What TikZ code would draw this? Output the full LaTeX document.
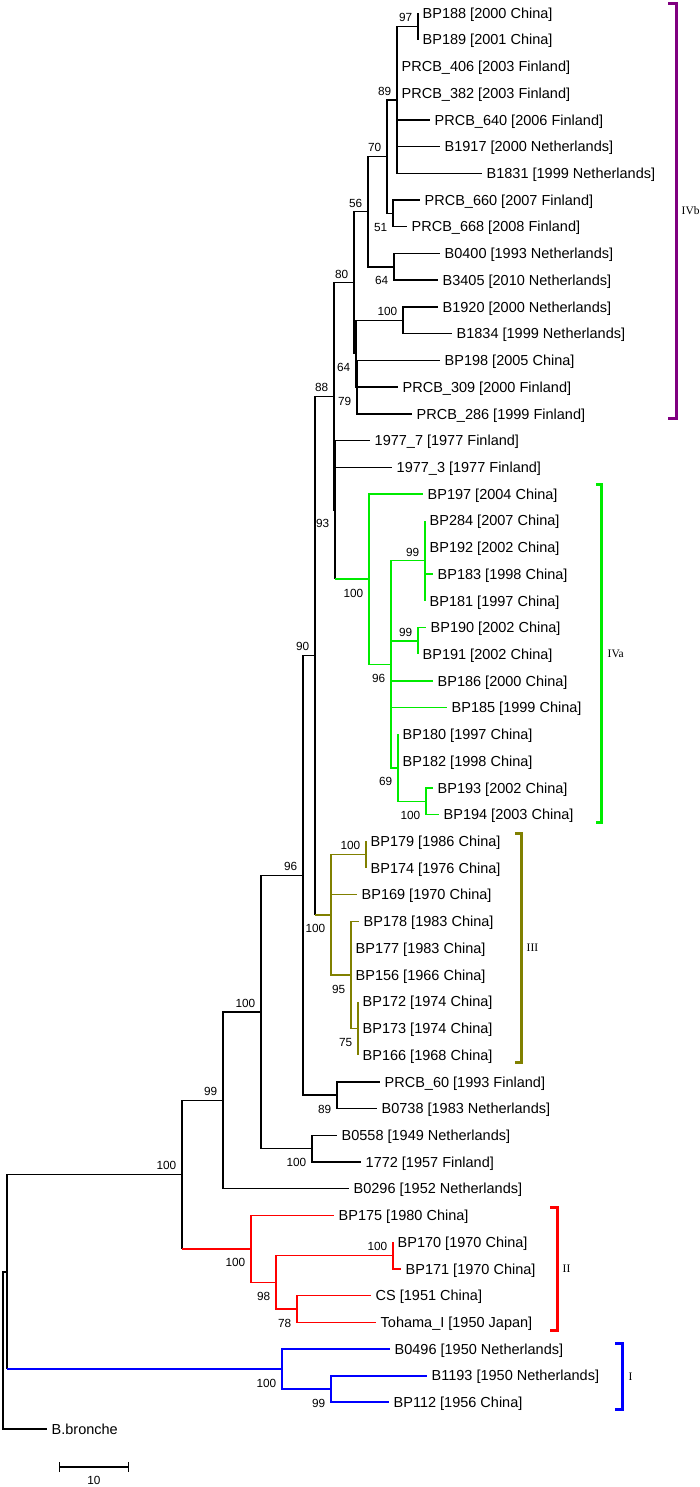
\documentclass[tikz,border=0pt]{standalone}
\usepackage{fontspec}
\setmainfont{Liberation Sans}
\newfontfamily\cladeserif{Liberation Serif}
\usetikzlibrary{arrows.meta}
\definecolor{cIVb}{RGB}{128,0,128}
\definecolor{cIVa}{RGB}{0,235,0}
\definecolor{cIII}{RGB}{128,128,0}
\definecolor{cII}{RGB}{255,0,0}
\definecolor{cI}{RGB}{0,0,255}

\begin{document}
\begin{tikzpicture}[x=1pt,y=-26.72pt,line width=1.4pt,
  leaf/.style={anchor=west,inner xsep=4pt,inner ysep=0pt,text height=10.4pt,text depth=0pt,font=\fontsize{14.5}{17}\selectfont},
  bs/.style={inner sep=0pt,text height=8.4pt,text depth=0pt,font=\fontsize{11.8}{14}\selectfont},
  bsup/.style={label={[bs,xshift=-5pt,yshift=4pt]above left:#1}},
  bsdn/.style={label={[bs,xshift=-5pt,yshift=-9pt]below left:#1}},
  brk/.style={line width=3pt},
  clade/.style={anchor=west,inner sep=0pt,text height=7.6pt,text depth=0pt,font=\cladeserif\fontsize{11.5}{13}\selectfont}]
\useasboundingbox (0,0.5135) rectangle (700,56.165);

\node[leaf] (bp188) at (418,1) {BP188 [2000 China]};
\node[leaf] (bp189) at (418,2) {BP189 [2001 China]};
\node[leaf] (prcb406) at (397,3) {PRCB\_406 [2003 Finland]};
\node[leaf] (prcb382) at (397,4) {PRCB\_382 [2003 Finland]};
\node[leaf] (prcb640) at (430,5) {PRCB\_640 [2006 Finland]};
\node[leaf] (b1917) at (440,6) {B1917 [2000 Netherlands]};
\node[leaf] (b1831) at (482,7) {B1831 [1999 Netherlands]};
\node[leaf] (prcb660) at (420,8) {PRCB\_660 [2007 Finland]};
\node[leaf] (prcb668) at (407,9) {PRCB\_668 [2008 Finland]};
\node[leaf] (b0400) at (440,10) {B0400 [1993 Netherlands]};
\node[leaf] (b3405) at (438,11) {B3405 [2010 Netherlands]};
\node[leaf] (b1920) at (438,12) {B1920 [2000 Netherlands]};
\node[leaf] (b1834) at (452,13) {B1834 [1999 Netherlands]};
\node[leaf] (bp198) at (440,14) {BP198 [2005 China]};
\node[leaf] (prcb309) at (398,15) {PRCB\_309 [2000 Finland]};
\node[leaf] (prcb286) at (412,16) {PRCB\_286 [1999 Finland]};
\node[leaf] (fin7) at (370,17) {1977\_7 [1977 Finland]};
\node[leaf] (fin3) at (392,18) {1977\_3 [1977 Finland]};
\node[leaf] (bp197) at (423,19) {BP197 [2004 China]};
\node[leaf] (bp284) at (425,20) {BP284 [2007 China]};
\node[leaf] (bp192) at (425,21) {BP192 [2002 China]};
\node[leaf] (bp183) at (433,22) {BP183 [1998 China]};
\node[leaf] (bp181) at (425,23) {BP181 [1997 China]};
\node[leaf] (bp190) at (426,24) {BP190 [2002 China]};
\node[leaf] (bp191) at (418,25) {BP191 [2002 China]};
\node[leaf] (bp186) at (433,26) {BP186 [2000 China]};
\node[leaf] (bp185) at (447,27) {BP185 [1999 China]};
\node[leaf] (bp180) at (398,28) {BP180 [1997 China]};
\node[leaf] (bp182) at (398,29) {BP182 [1998 China]};
\node[leaf] (bp193) at (433,30) {BP193 [2002 China]};
\node[leaf] (bp194) at (439,31) {BP194 [2003 China]};
\node[leaf] (bp179) at (366,32) {BP179 [1986 China]};
\node[leaf] (bp174) at (366,33) {BP174 [1976 China]};
\node[leaf] (bp169) at (357,34) {BP169 [1970 China]};
\node[leaf] (bp178) at (359,35) {BP178 [1983 China]};
\node[leaf] (bp177) at (351,36) {BP177 [1983 China]};
\node[leaf] (bp156) at (351,37) {BP156 [1966 China]};
\node[leaf] (bp172) at (358,38) {BP172 [1974 China]};
\node[leaf] (bp173) at (358,39) {BP173 [1974 China]};
\node[leaf] (bp166) at (358,40) {BP166 [1968 China]};
\node[leaf] (prcb60) at (380,41) {PRCB\_60 [1993 Finland]};
\node[leaf] (b0738) at (377,42) {B0738 [1983 Netherlands]};
\node[leaf] (b0558) at (337,43) {B0558 [1949 Netherlands]};
\node[leaf] (fin1772) at (361,44) {1772 [1957 Finland]};
\node[leaf] (b0296) at (349,45) {B0296 [1952 Netherlands]};
\node[leaf] (bp175) at (334,46) {BP175 [1980 China]};
\node[leaf] (bp170) at (393,47) {BP170 [1970 China]};
\node[leaf] (bp171) at (401,48) {BP171 [1970 China]};
\node[leaf] (cs) at (371,49) {CS [1951 China]};
\node[leaf] (tohama) at (376,50) {Tohama\_I [1950 Japan]};
\node[leaf] (b0496) at (390,51) {B0496 [1950 Netherlands]};
\node[leaf] (b1193) at (427,52) {B1193 [1950 Netherlands]};
\node[leaf] (bp112) at (389,53) {BP112 [1956 China]};
\node[leaf] (bbronche) at (47,54) {B.bronche};

\coordinate[bsup=97] (n97) at (418,1.5);
\coordinate[bsup=89] (n89) at (397,4.25);
\coordinate[bsdn=51] (n51) at (393,8.5);
\coordinate[bsup=70] (n70) at (387,6.375);
\coordinate[bsdn=64] (n64a) at (394,10.5);
\coordinate[bsup=56] (n56) at (368,8.4375);
\coordinate[bsup=100] (n100a) at (403,12.5);
\coordinate[bsdn=79] (n79) at (357,15);
\coordinate[bsdn=64] (n64b) at (356,13.75);
\coordinate[bsup=80] (n80) at (354,11.09375);
\coordinate[bsup=88] (n88) at (334,15.34375);
\coordinate[bsdn=93] (n93) at (335,19.59375);
\coordinate[bsdn=100] (nIVa) at (369,22.1875);
\coordinate[bsdn=96] (n96) at (391,25.375);
\coordinate[bsup=99] (n99a) at (425,21.5);
\coordinate[bsup=99] (n99b) at (418,24.5);
\coordinate[bsdn=69] (n69) at (398,29.25);
\coordinate[bsdn=100] (n100c) at (426,30.5);
\coordinate[bsdn=100] (n100d) at (331,34.75);
\coordinate[bsup=100] (n100e) at (366,32.5);
\coordinate[bsdn=95] (n95) at (351,37);
\coordinate[bsdn=75] (n75) at (358,39);
\coordinate[bsup=90] (n90) at (315,25.046875);
\coordinate[bsdn=89] (n89b) at (337,41.5);
\coordinate[bsup=96] (n96b) at (303,33.27344);
\coordinate[bsdn=100] (n100g) at (312,43.5);
\coordinate[bsup=100] (n100f) at (261,38.38672);
\coordinate[bsup=99] (n99c) at (223,41.69336);
\coordinate[bsup=100] (n100h) at (182,44.47168);
\coordinate[bsdn=100] (nII) at (251,47.25);
\coordinate[bsdn=98] (n98) at (276,48.5);
\coordinate[bsup=100] (n100i) at (393,47.5);
\coordinate[bsdn=78] (n78) at (297,49.5);
\coordinate[bsdn=100] (nI) at (282,51.75);
\coordinate[bsdn=99] (n99d) at (331,52.5);
\coordinate (n7) at (7,48.11084);
\coordinate (nroot) at (3,51.05542);

\draw (n97) |- (bp188.west) (n97) |- (bp189.west);
\draw (n89) |- (n97) (n89) |- (prcb406.west) (n89) |- (prcb382.west) (n89) |- (prcb640.west) (n89) |- (b1917.west) (n89) |- (b1831.west);
\draw (n51) |- (prcb660.west) (n51) |- (prcb668.west);
\draw (n70) |- (n89) (n70) |- (n51);
\draw (n64a) |- (b0400.west) (n64a) |- (b3405.west);
\draw (n56) |- (n70) (n56) |- (n64a);
\draw (n100a) |- (b1920.west) (n100a) |- (b1834.west);
\draw (n79) |- (bp198.west) (n79) |- (prcb309.west) (n79) |- (prcb286.west);
\draw (n64b) |- (n100a) (n64b) |- (n79);
\draw (n80) |- (n56) (n80) |- (n64b);
\draw (n88) |- (n80) (n88) |- (n93);
\draw (n93) |- (fin7.west) (n93) |- (fin3.west) (n93) -- (n93 |- nIVa);
\draw[cIVa] (n93 |- nIVa) -- (nIVa);
\draw[cIVa] (nIVa) |- (bp197.west) (nIVa) |- (n96)
  (n96) |- (n99a) (n96) |- (n99b) (n96) |- (bp186.west) (n96) |- (bp185.west) (n96) |- (n69)
  (n99a) |- (bp284.west) (n99a) |- (bp192.west) (n99a) |- (bp183.west) (n99a) |- (bp181.west)
  (n99b) |- (bp190.west) (n99b) |- (bp191.west)
  (n69) |- (bp180.west) (n69) |- (bp182.west) (n69) |- (n100c)
  (n100c) |- (bp193.west) (n100c) |- (bp194.west);
\draw (n90) |- (n88) (n90) -- (n90 |- n100d);
\draw[cIII] (n90 |- n100d) -- (n100d);
\draw[cIII] (n100d) |- (n100e) (n100d) |- (bp169.west) (n100d) |- (n95)
  (n100e) |- (bp179.west) (n100e) |- (bp174.west)
  (n95) |- (bp178.west) (n95) |- (bp177.west) (n95) |- (bp156.west) (n95) |- (n75)
  (n75) |- (bp172.west) (n75) |- (bp173.west) (n75) |- (bp166.west);
\draw (n89b) |- (prcb60.west) (n89b) |- (b0738.west);
\draw (n96b) |- (n90) (n96b) |- (n89b);
\draw (n100g) |- (b0558.west) (n100g) |- (fin1772.west);
\draw (n100f) |- (n96b) (n100f) |- (n100g);
\draw (n99c) |- (n100f) (n99c) |- (b0296.west);
\draw (n100h) |- (n99c) (n100h) -- (n100h |- nII);
\draw[cII] (n100h |- nII) -- (nII);
\draw[cII] (nII) |- (bp175.west) (nII) |- (n98) (n98) |- (n100i) (n98) |- (n78)
  (n100i) |- (bp170.west) (n100i) |- (bp171.west) (n78) |- (cs.west) (n78) |- (tohama.west);
\draw (n7) |- (n100h) (n7) -- (n7 |- nI);
\draw[cI,line width=2pt] (n7 |- nI) -- (nI);
\draw[cI,line width=2pt] (nI) |- (b0496.west) (nI) |- (n99d) (n99d) |- (b1193.west) (n99d) |- (bp112.west);
\draw (nroot) |- (n7) (nroot) |- (bbronche.west);

\draw[brk,cIVb] (668,0.626) -| (676,16.19) -- (668,16.19);
\node[clade] (kIVb) at (681,8.41) {IVb};
\draw[brk,cIVa] (596,18.66) -| (601,31.28) -- (596,31.28);
\node[clade] (kIVa) at (607,24.97) {IVa};
\draw[brk,cIII] (515,31.69) -| (521,40.26) -- (515,40.26);
\node[clade] (kIII) at (526,35.98) {III};
\draw[brk,cII] (550,45.72) -| (557,50.29) -- (550,50.29);
\node[clade] (kII) at (562,48.0) {II};
\draw[brk,cI] (615,50.78) -| (622,53.28) -- (615,53.28);
\node[clade] (kI) at (628,52.03) {I};

\coordinate (sbl) at (59,55.42);
\coordinate (sbr) at (129,55.42);
\draw[{Bar[width=10pt]}-{Bar[width=10pt]}] (sbl) -- (sbr);
\node[bs,below=8pt] (sblab) at (94,55.42) {10};
\end{tikzpicture}
\end{document}
